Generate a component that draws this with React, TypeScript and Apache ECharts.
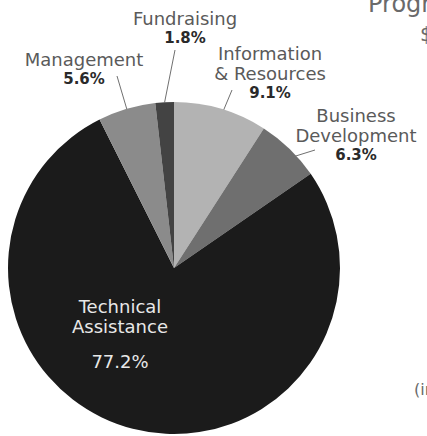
import React, { useEffect, useRef } from "react";
import * as echarts from "echarts";

const categories = [
  "Information\n& Resources",
  "Business\nDevelopment",
  "Technical\nAssistance",
  "Management",
  "Fundraising",
];
const shares = [9.1, 6.3, 77.2, 5.6, 1.8];
const sliceColors = ["#b3b3b3", "#6f6f6f", "#1b1b1b", "#8b8b8b", "#434343"];

const CX = 174;
const CY = 268;
const R = 166;

// label block centre, leader-line end, leader-line start as a fraction of radius
const labelSpots = [
  { x: 270, y: 73, ex: 232, ey: 90, f: 0.83 },
  { x: 356, y: 135, ex: 315, ey: 150, f: 0.89 },
  { x: 120, y: 341, ex: 0, ey: 0, f: 0 },
  { x: 84, y: 69, ex: 117, ey: 76, f: 0.74 },
  { x: 185, y: 28, ex: 175, ey: 50, f: 1.0 },
];

const FONT = "'DejaVu Sans', sans-serif";

export default function App() {
  const ref = useRef<HTMLDivElement>(null);

  useEffect(() => {
    if (!ref.current) return;
    const chart = echarts.init(ref.current, null, { renderer: "svg" });
    const total = shares.reduce((a, b) => a + b, 0);
    const midAngle = (i: number) => {
      let c = 0;
      for (let j = 0; j < i; j++) c += shares[j];
      return ((c + shares[i] / 2) / total) * Math.PI * 2;
    };

    const data = categories.map((name, i) => {
      const inside = i === 2;
      return {
        name,
        value: shares[i],
        itemStyle: { color: sliceColors[i] },
        label: inside
          ? {
              position: "inside" as const,
              formatter: (p: any) =>
                p.name
                  .split("\n")
                  .map((l: string) => `{w|${l}}`)
                  .join("\n") + `\n{wp|${p.value.toFixed(1)}%}`,
            }
          : undefined,
        labelLine: inside ? { show: false } : undefined,
      };
    });

    chart.setOption({
      animation: false,
      backgroundColor: "#ffffff",
      graphic: [
        {
          type: "text",
          left: 368,
          top: -8,
          style: { text: "Program", font: `24px ${FONT}`, fill: "#6a6a6a" },
        },
        {
          type: "text",
          left: 420,
          top: 24,
          style: { text: "$", font: `20px ${FONT}`, fill: "#6a6a6a" },
        },
        {
          type: "text",
          left: 414,
          top: 381,
          style: { text: "(in", font: `16px ${FONT}`, fill: "#6a6a6a" },
        },
      ],
      series: [
        {
          type: "pie",
          center: [CX, CY],
          radius: [0, R],
          startAngle: 90,
          clockwise: true,
          silent: true,
          itemStyle: { borderWidth: 0 },
          label: {
            show: true,
            position: "outside",
            align: "center",
            overflow: "none",
            alignTo: "none",
            formatter: (p: any) =>
              p.name
                .split("\n")
                .map((l: string) => `{n|${l}}`)
                .join("\n") + `\n{p|${p.value.toFixed(1)}%}`,
            rich: {
              n: {
                fontFamily: FONT,
                fontSize: 18,
                color: "#5a5a5a",
                lineHeight: 20,
                align: "center",
              },
              p: {
                fontFamily: FONT,
                fontSize: 15,
                fontWeight: "bold",
                color: "#2a2a2a",
                lineHeight: 19,
                align: "center",
              },
              w: {
                fontFamily: FONT,
                fontSize: 18,
                color: "#e8e8e8",
                lineHeight: 20,
                align: "center",
              },
              wp: {
                fontFamily: FONT,
                fontSize: 18,
                color: "#e8e8e8",
                lineHeight: 50,
                align: "center",
              },
            },
          },
          labelLine: {
            show: true,
            lineStyle: { color: "#707070", width: 1 },
          },
          labelLayout: (params: any) => {
            const i = params.dataIndex;
            const s = labelSpots[i];
            const out: any = {
              x: s.x,
              y: s.y,
              align: "center",
              verticalAlign: "middle",
            };
            if (s.f > 0) {
              const a = midAngle(i);
              out.labelLinePoints = [
                [CX + s.f * R * Math.sin(a), CY - s.f * R * Math.cos(a)],
                [s.ex, s.ey],
                [s.ex, s.ey],
              ];
            }
            return out;
          },
          data,
        },
      ],
    });

    return () => chart.dispose();
  }, []);

  return (
    <div
      ref={ref}
      style={{ position: "fixed", left: 0, top: 0, width: 427, height: 436 }}
    />
  );
}
